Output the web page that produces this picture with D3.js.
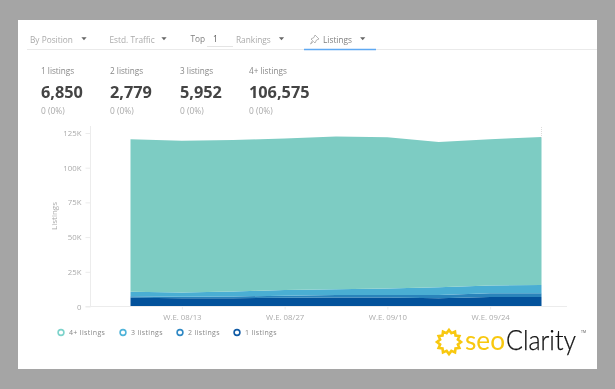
<!DOCTYPE html>
<html>
<head>
<meta charset="utf-8">
<script src="https://cdn.jsdelivr.net/npm/d3@7"></script>
<style>
    html, body { margin: 0; padding: 0; background: #a5a5a5; }
    svg { display: block; font-family: "Open Sans", sans-serif; filter: blur(0.55px); }
    .axis path, .axis line { stroke: #ececec; }
    .axis text { fill: #ababab; font-size: 7.8px; font-family: "Open Sans", sans-serif; }
</style>
</head>
<body>
<svg id="chart" width="615" height="389"></svg>
<script>
// chart data, in thousands of listings per week
const weeks = ["08/06", "08/13", "08/20", "08/27", "09/03", "09/10", "09/17", "09/24", "10/01"];
const listings1 = [6.3, 6.0, 6.0, 6.3, 6.4, 6.4, 6.0, 6.9, 6.85];
const listings2 = [1.0, 1.0, 1.2, 1.5, 1.8, 1.9, 2.2, 2.6, 2.78];
const listings3 = [3.4, 3.0, 3.6, 4.0, 4.2, 4.7, 5.6, 5.6, 5.95];
const listings4 = [109.8, 109.5, 109.2, 109.2, 110.1, 109.0, 104.7, 105.4, 106.6];

const seriesNames = ["1 listings", "2 listings", "3 listings", "4+ listings"];
const seriesColors = ["#03529b", "#2a84bb", "#4aaed3", "#7dccc3"];
const legendOrder = ["4+ listings", "3 listings", "2 listings", "1 listings"];
const legendColors = ["#7dd3cb", "#4fb3d9", "#2f88c4", "#0f5aa5"];
const legendX = [61, 123, 180, 237];

const yTicks = [0, 25, 50, 75, 100, 125];
const xTicks = ["08/13", "08/27", "09/10", "09/24"];

const statLabels = ["1 listings", "2 listings", "3 listings", "4+ listings"];
const statValues = ["6,850", "2,779", "5,952", "106,575"];
const statChanges = ["0 (0%)", "0 (0%)", "0 (0%)", "0 (0%)"];
const statX = [41, 110, 180, 249];

const svg = d3.select("#chart");

// white card on the grey page
svg.append("rect").attr("x", 18).attr("y", 20).attr("width", 579).attr("height", 349).attr("fill", "#fff");

// toolbar
const toolbar = svg.append("g");
toolbar.append("line").attr("x1", 27).attr("x2", 597).attr("y1", 49.5).attr("y2", 49.5).attr("stroke", "#eaeaea");
toolbar.append("line").attr("x1", 304).attr("x2", 376).attr("y1", 49.5).attr("y2", 49.5).attr("stroke", "#5fa9f2").attr("stroke-width", 1.4);
toolbar.append("line").attr("x1", 207).attr("x2", 233).attr("y1", 46.5).attr("y2", 46.5).attr("stroke", "#e4e4e4");

const toolbarText = [
    ["By Position", 30, 43, "#aaa"],
    ["Estd. Traffic", 109.5, 43, "#aaa"],
    ["Top", 190.5, 42, "#808080"],
    ["1", 213, 41.5, "#555"],
    ["Rankings", 236, 43, "#aaa"],
    ["Listings", 323, 42.5, "#808080"]
];
toolbar.selectAll("text").data(toolbarText).enter().append("text")
    .attr("x", d => d[1])
    .attr("y", d => d[2])
    .attr("font-size", 8.3)
    .attr("fill", d => d[3])
    .text(d => d[0]);

toolbar.selectAll("path.caret").data([84, 164, 281.5, 362.7]).enter().append("path")
    .attr("class", "caret")
    .attr("d", d => `M${d - 2.6},37.3 L${d + 2.6},37.3 L${d},40.3 Z`)
    .attr("fill", "#666");

// pin icon
toolbar.append("path")
    .attr("d", "M315,35 L319,39 L316.5,40 L315,43 L313.5,41.5 L310.5,44 L312.5,40.5 L311,39 L314,37.5 Z")
    .attr("fill", "none").attr("stroke", "#999").attr("stroke-width", 0.7);

// summary numbers
const stats = svg.append("g");
stats.selectAll("text.label").data(statLabels).enter().append("text")
    .attr("class", "label")
    .attr("x", (d, i) => statX[i]).attr("y", 74)
    .attr("font-size", 8.2).attr("fill", "#888").text(d => d);
stats.selectAll("text.value").data(statValues).enter().append("text")
    .attr("class", "value")
    .attr("x", (d, i) => statX[i]).attr("y", 98)
    .attr("font-size", 16.3).attr("font-weight", 700).attr("fill", "#444").text(d => d);
stats.selectAll("text.change").data(statChanges).enter().append("text")
    .attr("class", "change")
    .attr("x", (d, i) => statX[i]).attr("y", 114)
    .attr("font-size", 8.4).attr("fill", "#aaa").text(d => d);

// scales
const x = d3.scalePoint().domain(weeks).range([130.5, 541.5]);
const y = d3.scaleLinear().domain([0, 125]).range([306.5, 133]);

// stacked areas
const rows = weeks.map((w, i) => ({
    week: w,
    "1 listings": listings1[i],
    "2 listings": listings2[i],
    "3 listings": listings3[i],
    "4+ listings": listings4[i]
}));
const stack = d3.stack().keys(seriesNames);
const area = d3.area()
    .x(d => x(d.data.week))
    .y0(d => y(d[0]))
    .y1(d => y(d[1]));

svg.append("g").selectAll("path").data(stack(rows)).enter().append("path")
    .attr("d", area)
    .attr("fill", (d, i) => seriesColors[i]);

// axes
const yAxis = svg.append("g").attr("class", "axis")
    .attr("transform", "translate(90.5,0)")
    .call(d3.axisLeft(y).tickValues(yTicks).tickSize(5).tickPadding(4).tickFormat(d => d == 0 ? "0" : d + "K"));
yAxis.select(".domain").attr("d", `M0,126V${y(0)}`);

const xAxis = svg.append("g").attr("class", "axis")
    .attr("transform", `translate(0,${y(0)})`)
    .call(d3.axisBottom(x).tickValues(xTicks).tickSize(3).tickPadding(4.5).tickFormat(d => "W.E. " + d));
xAxis.select(".domain").attr("d", "M85.5,0H567");

svg.append("text")
    .attr("transform", "translate(57,216) rotate(-90)")
    .attr("text-anchor", "middle")
    .attr("font-size", 8).attr("fill", "#aaa")
    .text("Listings");

// hover guide at the right edge of the areas
svg.append("line")
    .attr("x1", x("10/01")).attr("x2", x("10/01"))
    .attr("y1", 127).attr("y2", 138)
    .attr("stroke", "#ddd").attr("stroke-dasharray", "1,1");

// legend
const legend = svg.append("g").selectAll("g").data(legendOrder).enter().append("g")
    .attr("transform", (d, i) => `translate(${legendX[i]},332.5)`);
legend.append("circle").attr("r", 2.9).attr("fill", "#fff")
    .attr("stroke", (d, i) => legendColors[i]).attr("stroke-width", 1.6);
legend.append("text").attr("x", 8).attr("y", 2.6)
    .attr("font-size", 7).attr("letter-spacing", 0.35).attr("fill", "#888").text(d => d);

// logo
const logo = svg.append("g");
const sunPoints = d3.range(24).map(i => [i * Math.PI / 12, i % 2 == 0 ? 12 : 9.2]);
logo.append("path")
    .attr("transform", "translate(449,342)")
    .attr("d", d3.lineRadial().curve(d3.curveLinearClosed)(sunPoints))
    .attr("fill", "none").attr("stroke", "#f8c80f").attr("stroke-width", 2.6);
logo.append("text").attr("x", 465).attr("y", 350)
    .attr("font-family", "Lato, sans-serif").attr("font-weight", 400)
    .attr("font-size", 27).attr("fill", "#f8c80f")
    .attr("textLength", 40).attr("lengthAdjust", "spacingAndGlyphs").text("seo");
logo.append("text").attr("x", 506).attr("y", 350)
    .attr("font-family", "Lato, sans-serif").attr("font-weight", 300)
    .attr("font-size", 27).attr("fill", "#111").attr("stroke", "#111").attr("stroke-width", 0.25)
    .attr("textLength", 70).attr("lengthAdjust", "spacingAndGlyphs").text("Clarity");
logo.append("text").attr("x", 581).attr("y", 333)
    .attr("font-size", 3.5).attr("fill", "#555").text("TM");
</script>
</body>
</html>
